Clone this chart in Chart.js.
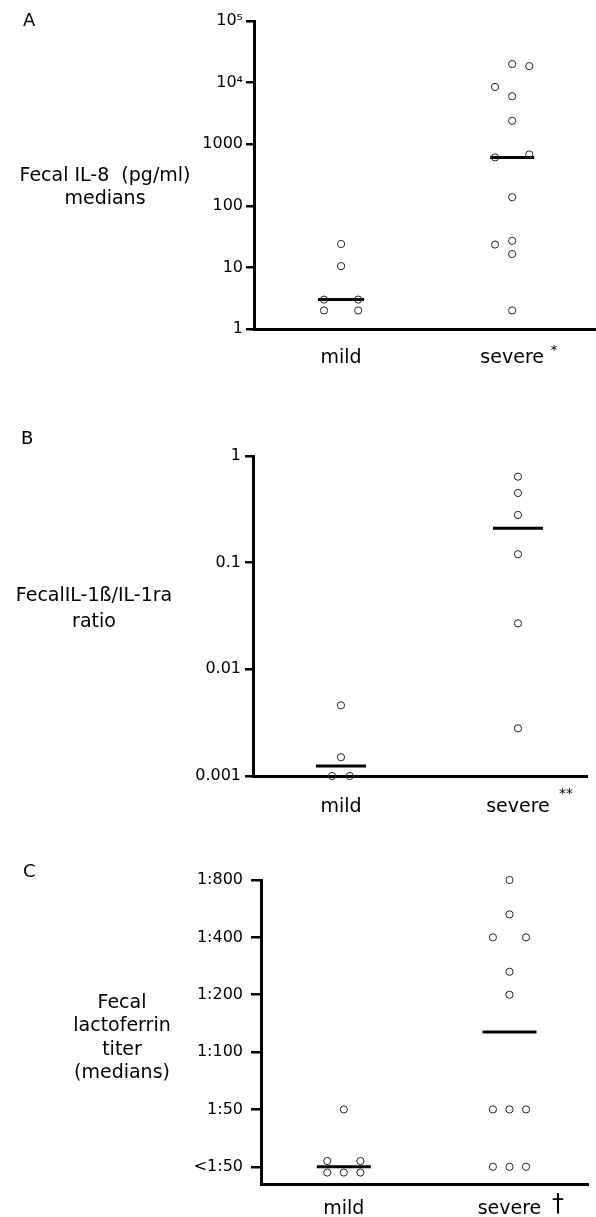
<!DOCTYPE html>
<html>
<head>
<meta charset="utf-8">
<script src="https://cdn.jsdelivr.net/npm/chart.js@4.4.0/dist/chart.umd.min.js"></script>
<style>
  html, body { margin: 0; padding: 0; background: #fff; }
  canvas { position: absolute; left: 0; }
  #chartA { top: 0; }
  #chartB { top: 400px; }
  #chartC { top: 830px; }
</style>
</head>
<body>
<canvas id="chartA" width="596" height="390"></canvas>
<canvas id="chartB" width="596" height="430"></canvas>
<canvas id="chartC" width="596" height="387"></canvas>
<script>
const groups = ['mild', 'severe'];

// A: fecal IL-8 (pg/ml), log axis
const il8Ticks = [1, 10, 100, 1000, 10000, 100000];
const il8TickLabels = ['1', '10', '100', '1000', '10⁴', '10⁵'];
const il8Mild = [24, 10.5, 3, 3, 2, 2];
const il8MildLane = [0, 0, -1, 1, -1, 1];
const il8Severe = [20000, 18500, 8500, 6000, 2400, 610, 680, 138, 23.5, 27, 16.5, 2];
const il8SevereLane = [0, 1, -1, 0, 0, -1, 1, 0, -1, 0, 0, 0];
const il8Medians = [3, 610];

// B: IL-1beta / IL-1ra ratio, log axis
const ratioTicks = [0.001, 0.01, 0.1, 1];
const ratioTickLabels = ['0.001', '0.01', '0.1', '1'];
const ratioMild = [0.0046, 0.0015, 0.001, 0.001];
const ratioMildLane = [0, 0, -0.5, 0.5];
const ratioSevere = [0.64, 0.45, 0.28, 0.12, 0.027, 0.0028];
const ratioSevereLane = [0, 0, 0, 0, 0, 0];
const ratioMedians = [0.00124, 0.21];

// C: lactoferrin titer, ordinal steps (0 = <1:50)
const titerTicks = [0, 1, 2, 3, 4, 5];
const titerLabels = ['<1:50', '1:50', '1:100', '1:200', '1:400', '1:800'];
const lfMild = [0.1, 0.1, -0.1, -0.1, -0.1, 1];
const lfMildLane = [-1, 1, -1, 0, 1, 0];
const lfSevere = [5, 4.4, 4, 4, 3.4, 3, 1, 1, 1, 0, 0, 0];
const lfSevereLane = [0, 0, -1, 1, 0, 0, -1, 0, 1, -1, 0, 1];
const lfMedians = [0, 2.35];

const FONT = '"DejaVu Sans", Verdana, sans-serif';
const INK = '#000';

function toPoints(values, lanes, group) {
  return values.map((v, i) => ({ x: group + lanes[i] * 0.1, y: v }));
}

const panelText = {
  id: 'panelText',
  afterDraw(chart, args, o) {
    const ctx = chart.ctx;
    ctx.save();
    ctx.fillStyle = INK;
    ctx.textBaseline = 'middle';
    ctx.font = '18px ' + FONT;
    ctx.textAlign = 'left';
    ctx.fillText(o.letter, o.letterX, o.letterY);
    ctx.font = '19px ' + FONT;
    ctx.textAlign = 'center';
    o.title.forEach((line, i) => {
      ctx.fillText(line, o.titleX, o.titleY + i * o.titleGap);
    });
    ctx.font = o.markFont;
    ctx.fillText(o.mark, o.markX, o.markY);
    ctx.restore();
  },
};

function makePanel(id, p) {
  const ctx = document.getElementById(id);
  new Chart(ctx, {
    type: 'scatter',
    data: {
      datasets: [
        {
          label: 'mild',
          data: toPoints(p.mild, p.mildLane, 1),
          pointStyle: 'circle',
          pointRadius: 3.6,
          borderWidth: 1,
          borderColor: '#222',
          backgroundColor: 'rgba(0,0,0,0)',
          clip: false,
        },
        {
          label: 'severe',
          data: toPoints(p.severe, p.severeLane, 2),
          pointStyle: 'circle',
          pointRadius: 3.6,
          borderWidth: 1,
          borderColor: '#222',
          backgroundColor: 'rgba(0,0,0,0)',
          clip: false,
        },
        {
          label: 'median',
          data: p.medians.map((m, i) => ({ x: i + 1, y: m })),
          pointStyle: 'line',
          pointRadius: p.medianHalf,
          borderWidth: 3,
          borderColor: '#000',
          clip: false,
        },
      ],
    },
    options: {
      responsive: false,
      animation: false,
      events: [],
      layout: {
        autoPadding: false,
        padding: { top: p.padTop, right: p.padRight, left: 0, bottom: 0 },
      },
      scales: {
        x: {
          type: 'linear',
          min: p.xMin,
          max: p.xMax,
          afterFit: (s) => {
            s.height = p.xAxisHeight;
            s.paddingLeft = 0;
            s.paddingRight = 0;
          },
          afterBuildTicks: (s) => { s.ticks = [{ value: 1 }, { value: 2 }]; },
          grid: { display: false },
          border: { display: true, width: 3, color: '#000' },
          ticks: {
            padding: p.xLabelPad,
            maxRotation: 0,
            color: INK,
            font: { size: 19, family: FONT },
            callback: (v, i) => groups[i],
          },
        },
        y: {
          type: p.yType,
          min: p.yMin,
          max: p.yMax,
          afterFit: (s) => {
            s.width = p.axisWidth;
            s.paddingTop = 0;
            s.paddingBottom = 0;
          },
          afterBuildTicks: (s) => { s.ticks = p.yTicks.map((v) => ({ value: v })); },
          grid: {
            drawOnChartArea: false,
            drawTicks: true,
            tickLength: p.yTickLen,
            lineWidth: 2.5,
            tickColor: '#000',
          },
          border: { display: true, width: 3, color: '#000' },
          ticks: {
            padding: p.yTickPad,
            autoSkip: false,
            color: INK,
            font: { size: 16, family: FONT },
            callback: (v, i) => p.yLabels[i],
          },
        },
      },
      plugins: {
        legend: { display: false },
        tooltip: { enabled: false },
        panelText: p.text,
      },
    },
    plugins: [panelText],
  });
}

makePanel('chartA', {
  mild: il8Mild, mildLane: il8MildLane,
  severe: il8Severe, severeLane: il8SevereLane,
  medians: il8Medians, medianHalf: [23, 22],
  yType: 'logarithmic', yMin: 1, yMax: 100000,
  yTicks: il8Ticks, yLabels: il8TickLabels,
  xMin: 0.491, xMax: 2.49,
  padTop: 21, padRight: 0, axisWidth: 254, xAxisHeight: 61,
  yTickLen: 8, yTickPad: 3, xLabelPad: 10,
  text: {
    letter: 'A', letterX: 23, letterY: 21,
    title: ['Fecal IL-8  (pg/ml)', 'medians'], titleX: 105, titleY: 176, titleGap: 23,
    mark: '*', markFont: '13px ' + FONT, markX: 554, markY: 351,
  },
});

makePanel('chartB', {
  mild: ratioMild, mildLane: ratioMildLane,
  severe: ratioSevere, severeLane: ratioSevereLane,
  medians: ratioMedians, medianHalf: [25, 25],
  yType: 'logarithmic', yMin: 0.001, yMax: 1,
  yTicks: ratioTicks, yLabels: ratioTickLabels,
  xMin: 0.503, xMax: 2.39,
  padTop: 56, padRight: 9, axisWidth: 253, xAxisHeight: 54,
  yTickLen: 8, yTickPad: 4, xLabelPad: 12,
  text: {
    letter: 'B', letterX: 21, letterY: 39,
    title: ['FecalIL-1ß/IL-1ra', 'ratio'], titleX: 94, titleY: 196, titleGap: 26,
    mark: '**', markFont: '14px ' + FONT, markX: 566, markY: 394,
  },
});

makePanel('chartC', {
  mild: lfMild, mildLane: lfMildLane,
  severe: lfSevere, severeLane: lfSevereLane,
  medians: lfMedians, medianHalf: [27, 27],
  yType: 'linear', yMin: -0.3, yMax: 5,
  yTicks: titerTicks, yLabels: titerLabels,
  xMin: 0.5, xMax: 2.474,
  padTop: 50, padRight: 8, axisWidth: 261, xAxisHeight: 33,
  yTickLen: 10, yTickPad: 8, xLabelPad: 6,
  text: {
    letter: 'C', letterX: 23, letterY: 42,
    title: ['Fecal', 'lactoferrin', 'titer', '(medians)'], titleX: 122, titleY: 173, titleGap: 23.3,
    mark: '†', markFont: '24px ' + FONT, markX: 558, markY: 375,
  },
});
</script>
</body>
</html>
